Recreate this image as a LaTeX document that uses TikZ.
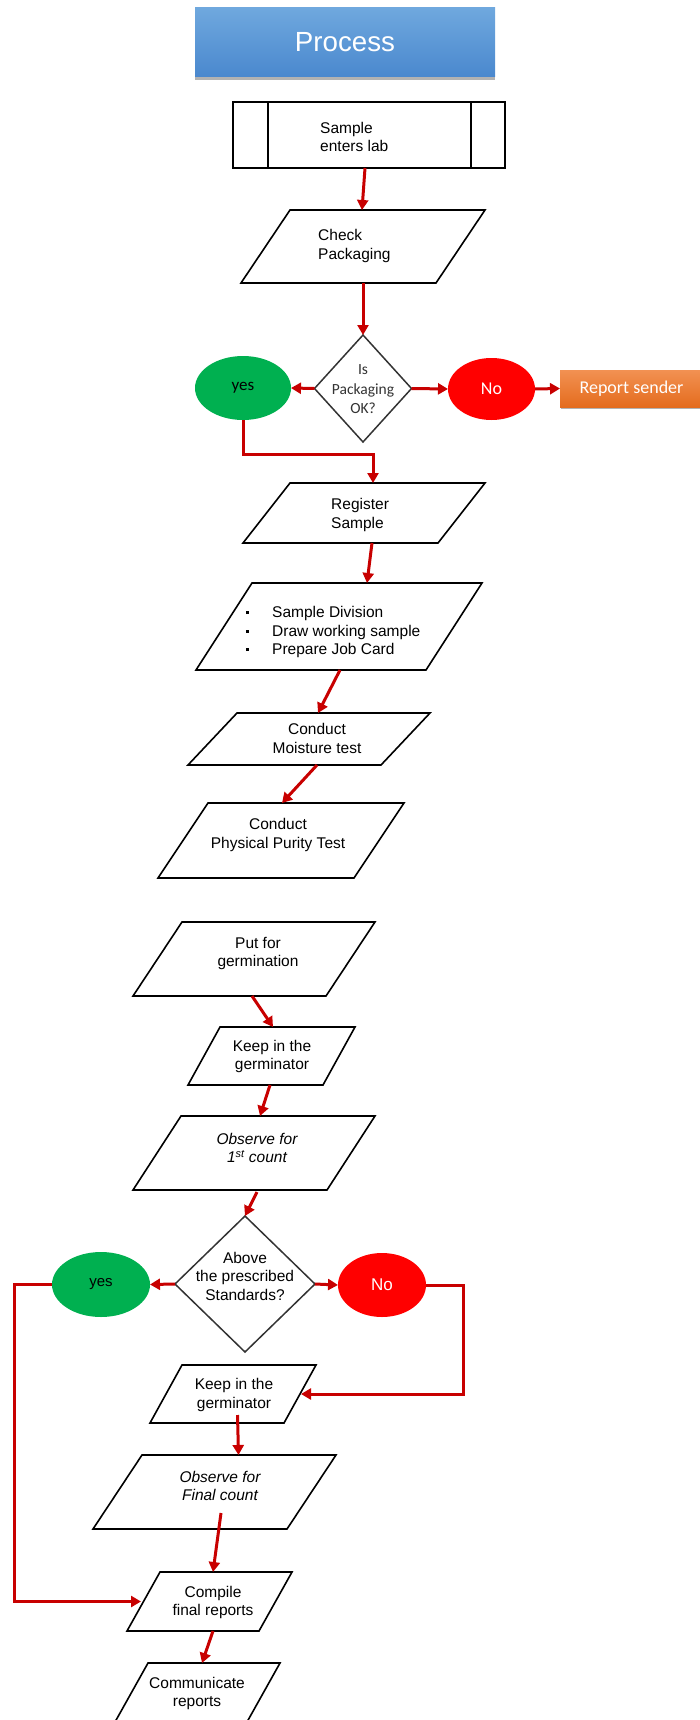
\documentclass[tikz,border=0pt]{standalone}
\usepackage{fontspec}
\setmainfont{Liberation Sans}
\newfontfamily\carlito{Carlito}
\usetikzlibrary{arrows.meta,shapes.geometric,shadows}
\definecolor{arrred}{HTML}{C80000}
\definecolor{okgreen}{HTML}{00B050}
\definecolor{nored}{HTML}{FF0000}
\definecolor{titletop}{HTML}{6FA8DE}
\definecolor{titlebot}{HTML}{4A88CE}
\definecolor{reptop}{HTML}{F29152}
\definecolor{repbot}{HTML}{E46C1E}
\newcommand{\drawpara}[2]{\draw[paraedge] ([xshift=#2]#1.north west) -- (#1.north east) -- ([xshift=-#2]#1.south east) -- (#1.south west) -- cycle;}
\begin{document}
\begin{tikzpicture}[x=1pt,y=-1pt,
  pbox/.style={draw=none,inner sep=0pt,outer sep=0pt},
  paraedge/.style={draw=black,line width=1.6pt,line join=miter},
  txt/.style={inner sep=0pt,align=center,font=\fontsize{15.5pt}{18.5pt}\selectfont},
  txtl/.style={txt,align=left,anchor=west},
  arr/.style={draw=arrred,line width=3pt,-{Triangle[length=10pt,width=11pt]}},
  oval/.style={ellipse,draw=none,inner sep=0pt,outer sep=0pt},
  dec/.style={diamond,draw=black!80,line width=1.5pt,inner sep=0pt,outer sep=0pt},
  titlebox/.style={inner sep=0pt,outer sep=0pt,top color=titletop,bottom color=titlebot,
    drop shadow={shadow xshift=0pt,shadow yshift=-3pt,opacity=0.3,fill=black},
    text=white,font=\fontsize{27.7pt}{32pt}\selectfont},
  repbox/.style={inner sep=0pt,outer sep=0pt,top color=reptop,bottom color=repbot,
    drop shadow={shadow xshift=1pt,shadow yshift=-2pt,opacity=0.3,fill=black}}
]
\useasboundingbox (0,0) rectangle (699,1720);

% title
\node[titlebox,minimum width=300pt,minimum height=69pt] (title) at (345,42.5) {Process};

% sample enters lab
\node[pbox,draw=black,line width=1.6pt,minimum width=272pt,minimum height=66pt] (samp) at (369,135) {};
\draw[line width=1.5pt] ([xshift=35pt]samp.north west) -- ([xshift=35pt]samp.south west);
\draw[line width=1.5pt] ([xshift=-34pt]samp.north east) -- ([xshift=-34pt]samp.south east);
\node[txtl] (sampt) at (320,137) {Sample\\enters lab};

% check packaging
\node[pbox,minimum width=244pt,minimum height=73pt] (chk) at (363,246.5) {};
\drawpara{chk}{49pt}
\node[txtl] (chkt) at (318,246) {Check\\Packaging};

% decision 1
\node[dec,minimum width=97pt,minimum height=107pt] (dia1) at (363,388.5) {};
\node[txt,font=\carlito\fontsize{15.5pt}{19.5pt}\selectfont,text=black!80] (dia1t) at (363,389.5) {Is\\Packaging\\OK?};
\node[oval,fill=okgreen,minimum width=96pt,minimum height=64pt] (yes1) at (243,388) {};
\node[txt,font=\carlito\fontsize{17pt}{20pt}\selectfont] (yes1t) at (243,388) {yes};
\node[oval,fill=nored,minimum width=87pt,minimum height=62pt] (no1) at (491.5,389) {};
\node[txt,font=\carlito\fontsize{18pt}{20pt}\selectfont,text=white] (no1t) at (491.5,389) {No};
\node[repbox,minimum width=142pt,minimum height=37pt] (rep) at (631,388.5) {};
\node[txt,font=\carlito\fontsize{18pt}{20pt}\selectfont,text=white] (rept) at (631.5,388.5) {Report sender};

% register sample
\node[pbox,minimum width=242pt,minimum height=60pt] (reg) at (364,513) {};
\drawpara{reg}{47pt}
\node[txtl] (regt) at (331,515) {Register\\Sample};

% sample division
\node[pbox,minimum width=286pt,minimum height=87pt] (div) at (339,626.5) {};
\drawpara{div}{56pt}
\node[txtl] (divt) at (246,632) {\makebox[26pt][l]{\rule[3.5pt]{3pt}{3pt}}Sample Division\\
\makebox[26pt][l]{\rule[3.5pt]{3pt}{3pt}}Draw working sample\\
\makebox[26pt][l]{\rule[3.5pt]{3pt}{3pt}}Prepare Job Card};

% moisture
\node[pbox,minimum width=242pt,minimum height=52pt] (moist) at (309,739) {};
\drawpara{moist}{49pt}
\node[txt] (moistt) at (317,738.5) {Conduct\\Moisture test};

% physical purity
\node[pbox,minimum width=246pt,minimum height=75pt] (phys) at (281,840.5) {};
\drawpara{phys}{50pt}
\node[txt] (physt) at (278,835) {Conduct\\Physical Purity Test};

% put for germination
\node[pbox,minimum width=242pt,minimum height=74pt] (put) at (254,959) {};
\drawpara{put}{49pt}
\node[txt] (putt) at (258,953.5) {Put for\\germination};

% keep 1
\node[pbox,minimum width=167pt,minimum height=58pt] (keep1) at (271.5,1056) {};
\drawpara{keep1}{32pt}
\node[txt] (keep1t) at (272,1056.5) {Keep in the\\germinator};

% observe 1
\node[pbox,minimum width=242pt,minimum height=74pt] (obs1) at (254,1153) {};
\drawpara{obs1}{48pt}
\node[txt,font=\itshape\fontsize{15.5pt}{18.5pt}\selectfont] (obs1t) at (257,1148) {Observe for\\1\textsuperscript{st} count};

% decision 2
\node[dec,minimum width=140pt,minimum height=136pt] (dia2) at (245,1284) {};
\node[txt] (dia2t) at (245,1276) {Above\\the prescribed\\Standards?};
\node[oval,fill=okgreen,minimum width=98pt,minimum height=65pt] (yes2) at (101,1284.5) {};
\node[txt,font=\fontsize{15pt}{18pt}\selectfont] (yes2t) at (101,1284.5) {yes};
\node[oval,fill=nored,minimum width=88pt,minimum height=64pt] (no2) at (382,1285) {};
\node[txt,font=\fontsize{17pt}{20pt}\selectfont,text=white] (no2t) at (382,1285) {No};

% keep 2
\node[pbox,minimum width=166pt,minimum height=58pt] (keep2) at (233,1394) {};
\drawpara{keep2}{32pt}
\node[txt] (keep2t) at (234,1395) {Keep in the\\germinator};

% observe final
\node[pbox,minimum width=243pt,minimum height=74pt] (obsf) at (214.5,1492) {};
\drawpara{obsf}{49pt}
\node[txt,font=\itshape\fontsize{15.5pt}{18.5pt}\selectfont] (obsft) at (220,1486) {Observe for\\Final count};

% compile
\node[pbox,minimum width=165pt,minimum height=59pt] (cmp) at (209.5,1601.5) {};
\drawpara{cmp}{33pt}
\node[txt] (cmpt) at (213,1602.5) {Compile\\final reports};

% communicate
\node[pbox,minimum width=165pt,minimum height=59pt] (com) at (197.5,1692.5) {};
\drawpara{com}{33pt}
\node[txt] (comt) at (197,1693.5) {Communicate\\reports};

% connectors
\coordinate (b1) at (373,454);
\coordinate (yl) at (14,1284.5);
\coordinate (nr) at (463,1285);
\draw[arr] ([xshift=-4pt]samp.south) -- ([xshift=-1pt]chk.north);
\draw[arr] (chk.south) -- (dia1.north);
\draw[arr] (dia1.west) -- (yes1.east);
\draw[arr] (dia1.east) -- (no1.west);
\draw[arr] (no1.east) -- (rep.west);
\draw[arr] (yes1.south) |- (b1) -- ([xshift=9pt]reg.north);
\draw[arr] ([xshift=8pt]reg.south) -- ([xshift=28pt]div.north);
\draw[arr] ([xshift=1pt]div.south) -- ([xshift=9pt]moist.north);
\draw[arr] ([xshift=8pt]moist.south) -- ([xshift=1pt]phys.north);
\draw[arr] ([xshift=-2pt]put.south) -- ([xshift=1.5pt]keep1.north);
\draw[arr] ([xshift=-1.5pt]keep1.south) -- ([xshift=6pt]obs1.north);
\draw[arr] ([xshift=3pt,yshift=-2pt]obs1.south) -- (dia2.north);
\draw[arr] (dia2.west) -- (yes2.east);
\draw[arr] (dia2.east) -- (no2.west);
\draw[arr] (yes2.west) -- (yl) |- ([xshift=14pt]cmp.west);
\draw[arr] (no2.east) -- (nr) |- ([xshift=-15pt]keep2.east);
\draw[arr] ([xshift=4.5pt,yshift=8pt]keep2.south) -- ([xshift=24pt]obsf.north);
\draw[arr] ([xshift=6.5pt,yshift=16pt]obsf.south) -- ([xshift=3.5pt]cmp.north);
\draw[arr] ([xshift=3.5pt]cmp.south) -- ([xshift=4.5pt]com.north);
\end{tikzpicture}
\end{document}
